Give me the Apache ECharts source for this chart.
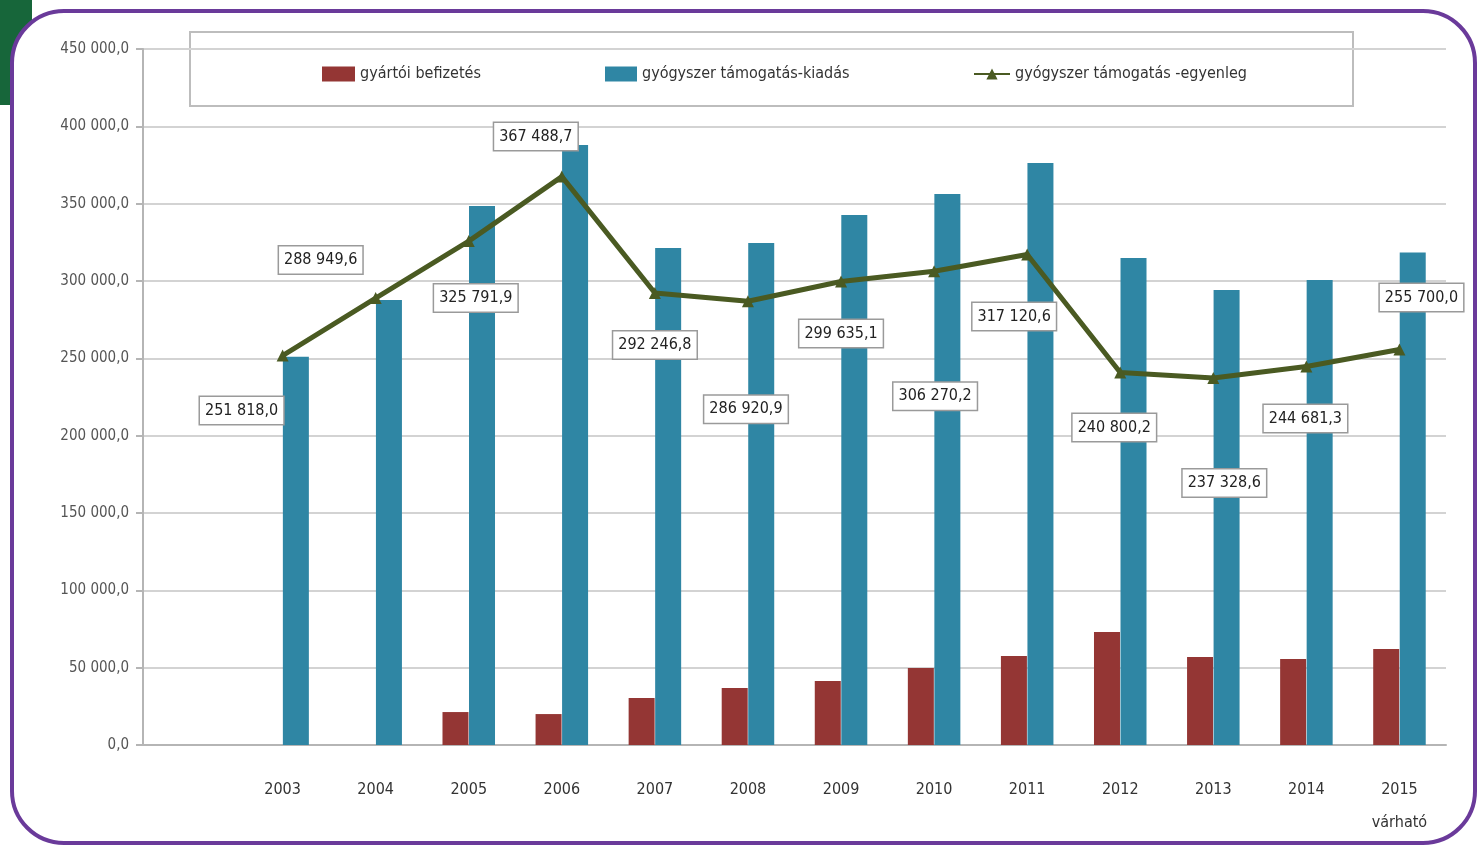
<!DOCTYPE html>
<html>
<head>
<meta charset="utf-8">
<script src="https://cdn.jsdelivr.net/npm/echarts@6/dist/echarts.min.js"></script>
<style>
  html, body { margin: 0; padding: 0; background: #ffffff; }
  #chart { width: 1477px; height: 847px; }
</style>
</head>
<body>
<div id="chart"></div>
<script>
// Years (the first slot is left empty on purpose)
const categories = ['', '2003', '2004', '2005', '2006', '2007', '2008', '2009', '2010', '2011', '2012', '2013', '2014', '2015\nvárható'];

// gyártói befizetés (millió Ft)
const befizetes = [null, null, null, 21300, 20000, 30400, 36900, 41400, 49800, 57500, 73100, 56900, 55600, 62100];

// gyógyszer támogatás-kiadás
const kiadas = [null, 251000, 287700, 348500, 388000, 321300, 324600, 342700, 356300, 376300, 314900, 294200, 300700, 318400];

// gyógyszer támogatás -egyenleg
const egyenleg = [null, 251818.0, 288949.6, 325791.9, 367488.7, 292246.8, 286920.9, 299635.1, 306270.2, 317120.6, 240800.2, 237328.6, 244681.3, 255700.0];

// y axis range
const yMin = 0, yMax = 450000, yStep = 50000;

// where each value box sits relative to its point
const labelOffsets = [
  [0, 0], [-41, 55], [-55, -38], [7, 57], [-26, -40], [0, 52], [-2, 108],
  [0, 52], [1, 125], [-13, 62], [-6, 55], [11, 105], [-1, 52], [22, -52]
];

const NARROW = "'Liberation Sans Narrow', 'DejaVu Sans Condensed', 'Roboto Condensed', sans-serif";

function huNum(v) {
  const fixed = Number(v).toFixed(1);
  const parts = fixed.split('.');
  const intPart = parts[0].replace(/\B(?=(\d{3})+(?!\d))/g, ' ');
  return intPart + ',' + parts[1];
}

const chart = echarts.init(document.getElementById('chart'), null, { renderer: 'canvas' });

const lineData = egyenleg.map((v, i) => {
  if (v === null) return null;
  return {
    value: v,
    label: {
      show: true,
      position: 'inside',
      offset: labelOffsets[i],
      formatter: () => huNum(v)
    }
  };
});

const legendText = { fontFamily: NARROW, fontSize: 16, color: '#333' };

const option = {
  backgroundColor: '#ffffff',
  animation: false,
  graphic: [
    { type: 'rect', z: -10, shape: { x: 0, y: 0, width: 32, height: 105 }, style: { fill: '#17663a' } },
    { type: 'rect', z: -9, shape: { x: 12, y: 11, width: 1463, height: 832, r: 52 },
      style: { fill: '#ffffff', stroke: '#6a3a9a', lineWidth: 4 } },
    { type: 'rect', z: -8, shape: { x: 190, y: 32, width: 1163, height: 74 },
      style: { fill: '#ffffff', stroke: '#bdbdbd', lineWidth: 2 } }
  ],
  grid: { left: 143, right: 31, top: 49, bottom: 102, containLabel: false },
  legend: [
    { data: [{ name: 'gyártói befizetés', icon: 'rect' }], left: 317, top: 61, itemWidth: 33, itemHeight: 15,
      itemGap: 4, textStyle: legendText },
    { data: [{ name: 'gyógyszer támogatás-kiadás', icon: 'rect' }], left: 600, top: 61, itemWidth: 32, itemHeight: 15,
      textStyle: legendText },
    { data: ['gyógyszer támogatás -egyenleg'], left: 968, top: 61, itemWidth: 36, itemHeight: 14,
      textStyle: legendText }
  ],
  xAxis: {
    type: 'category',
    data: categories,
    axisLine: { lineStyle: { color: '#b5b5b5', width: 2 } },
    axisTick: { show: false },
    axisLabel: { fontFamily: NARROW, fontSize: 16, color: '#333', margin: 28, lineHeight: 33, interval: 0 },
    splitLine: { show: false }
  },
  yAxis: {
    type: 'value',
    min: yMin, max: yMax, interval: yStep,
    axisLine: { show: true, lineStyle: { color: '#b5b5b5', width: 2 } },
    axisTick: { show: true, length: 7, lineStyle: { color: '#b5b5b5', width: 2 } },
    axisLabel: { fontFamily: NARROW, fontSize: 15, color: '#555', margin: 14, formatter: v => huNum(v) },
    splitLine: { lineStyle: { color: '#d3d3d3', width: 2 } }
  },
  series: [
    {
      name: 'gyártói befizetés',
      type: 'bar',
      data: befizetes,
      barWidth: 26,
      barGap: '2%',
      itemStyle: { color: '#943634' }
    },
    {
      name: 'gyógyszer támogatás-kiadás',
      type: 'bar',
      data: kiadas,
      barWidth: 26,
      itemStyle: { color: '#2f86a4' }
    },
    {
      name: 'gyógyszer támogatás -egyenleg',
      type: 'line',
      data: lineData,
      connectNulls: false,
      symbol: 'triangle',
      symbolSize: 12,
      lineStyle: { color: '#4a5a22', width: 5 },
      itemStyle: { color: '#4a5a22' },
      label: {
        fontFamily: NARROW,
        fontSize: 16,
        color: '#222',
        backgroundColor: '#ffffff',
        borderColor: '#9a9a9a',
        borderWidth: 1.5,
        padding: [6, 5, 5, 5]
      },
      z: 5
    }
  ]
};

chart.setOption(option);
</script>
</body>
</html>
